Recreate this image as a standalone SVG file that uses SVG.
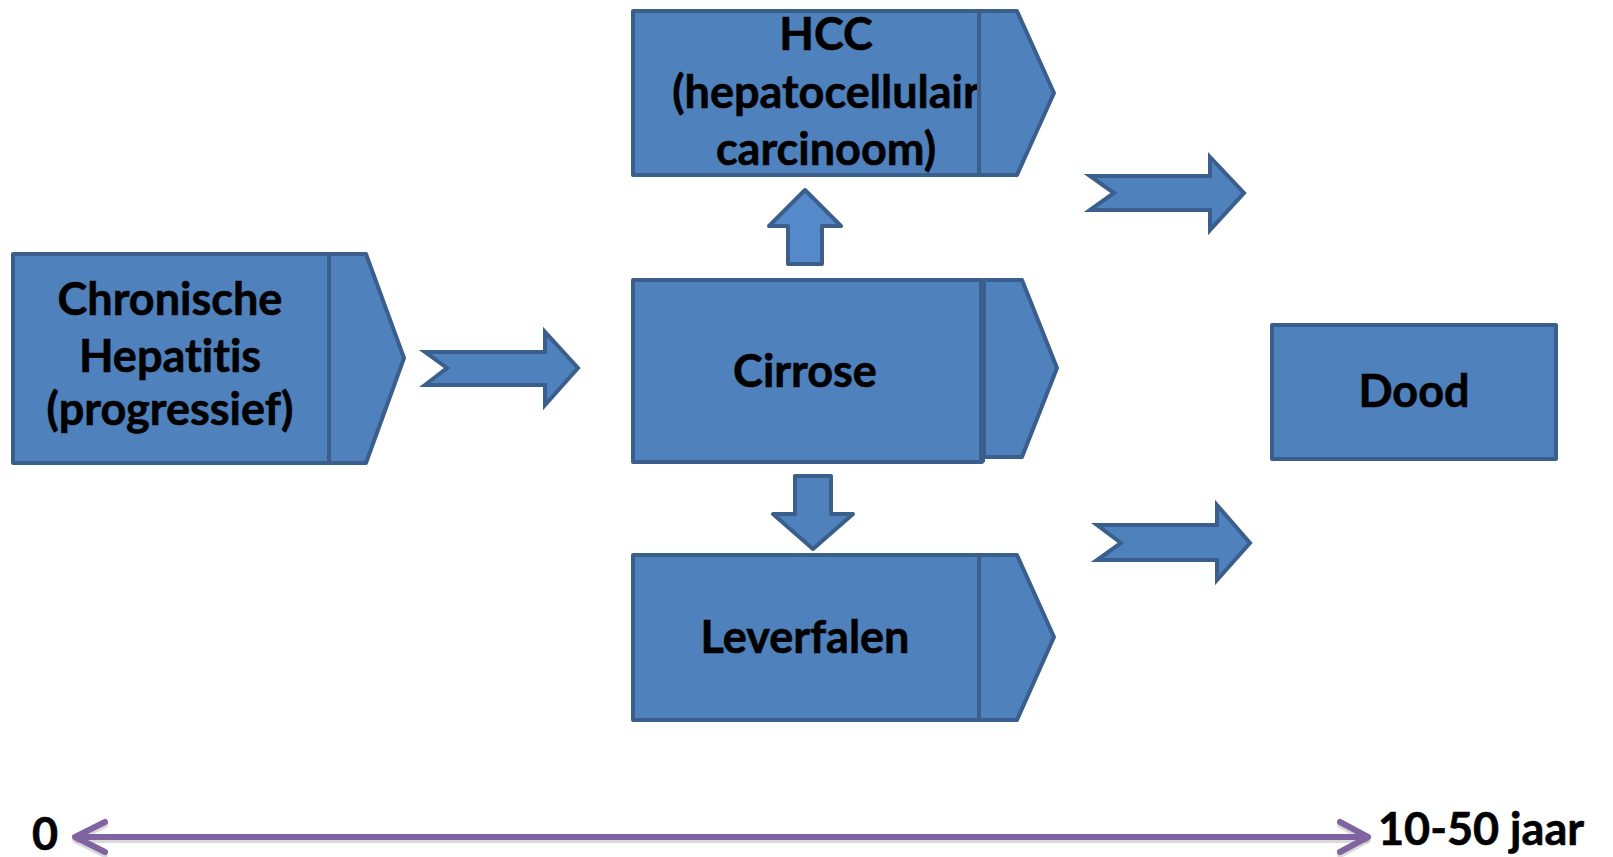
<svg xmlns="http://www.w3.org/2000/svg" width="1613" height="857" viewBox="0 0 1613 857">
<style>
.box{fill:#4F81BD;stroke:#3A5F8C;stroke-width:4;stroke-linejoin:round}
.blk{fill:#4F81BD;stroke:#3A5F8C;stroke-width:4;stroke-linejoin:miter}
.up{fill:#5589C9;stroke:#3A5F8C;stroke-width:4;stroke-linejoin:round}
.t{font-family:Lato,"Liberation Sans",sans-serif;font-weight:bold;font-size:45px;fill:#000;stroke:#000;stroke-width:0.6;text-anchor:middle;font-variant-ligatures:none;font-feature-settings:"liga" 0}
.tl{fill:none;stroke:#8064A2;stroke-width:6;stroke-linecap:round;stroke-linejoin:round}
.sh{fill:none;stroke:#000;stroke-opacity:0.15;stroke-width:6;stroke-linecap:round;stroke-linejoin:round}
</style>
<g id="chronische">
<rect class="box" x="13" y="254" width="316" height="209"/>
<polygon class="box" points="329,254 366,254 404,358 366,463 329,463"/>
<text class="t" x="170" y="315">Chronische</text>
<text class="t" x="170" y="372">Hepatitis</text>
<text class="t" x="170" y="425">(progressief)</text>
</g>
<g id="hcc">
<rect class="box" x="633" y="11" width="346" height="164"/>
<text class="t" x="826" y="50">HCC</text>
<text class="t" x="826" y="108">(hepatocellulair</text>
<text class="t" x="826" y="165">carcinoom)</text>
<polygon class="box" points="979,11 1017,11 1054,93 1017,175 979,175"/>
</g>
<g id="cirrose">
<rect class="box" x="633" y="280" width="349" height="182"/>
<polygon class="box" points="984,280 1022,280 1057,368 1022,457 984,457"/>
<line x1="982" y1="280" x2="982" y2="462" stroke="#3A5F8C" stroke-width="6"/>
<text class="t" x="805" y="387">Cirrose</text>
</g>
<g id="leverfalen">
<rect class="box" x="633" y="555" width="346" height="165"/>
<polygon class="box" points="979,555 1017,555 1054,637 1017,720 979,720"/>
<text class="t" x="805" y="653">Leverfalen</text>
</g>
<g id="dood">
<rect class="box" x="1272" y="325" width="284" height="134"/>
<text class="t" x="1414" y="407">Dood</text>
</g>
<g id="connectors">
<polygon class="blk" points="425,352 545,352 545,332 578,368 545,405 545,385 425,385 447,368"/>
<polygon class="blk" points="1090,176 1210,176 1210,157 1244,193 1210,230 1210,210 1090,210 1114,193"/>
<polygon class="blk" points="1097,525 1217,525 1217,505 1250,543 1217,580 1217,560 1097,560 1121,543"/>
<polygon class="up" points="805,190 841,226 822,226 822,264 788,264 788,226 769,226"/>
<polygon class="box" points="795,476 831,476 831,514 853,514 813,549 773,514 795,514"/>
</g>
<g id="timeline">
<g transform="translate(0,3)">
<line class="sh" x1="78" y1="837" x2="1366" y2="837"/>
<polyline class="sh" points="105,822 75,837 105,852"/>
<polyline class="sh" points="1340,822 1368,837 1340,852"/>
</g>
<line class="tl" x1="78" y1="837" x2="1366" y2="837"/>
<polyline class="tl" points="105,822 75,837 105,852"/>
<polyline class="tl" points="1340,822 1368,837 1340,852"/>
<text class="t" x="32" y="850" style="text-anchor:start">0</text>
<text class="t" x="1378" y="845" style="text-anchor:start">10-50 jaar</text>
</g>
</svg>
